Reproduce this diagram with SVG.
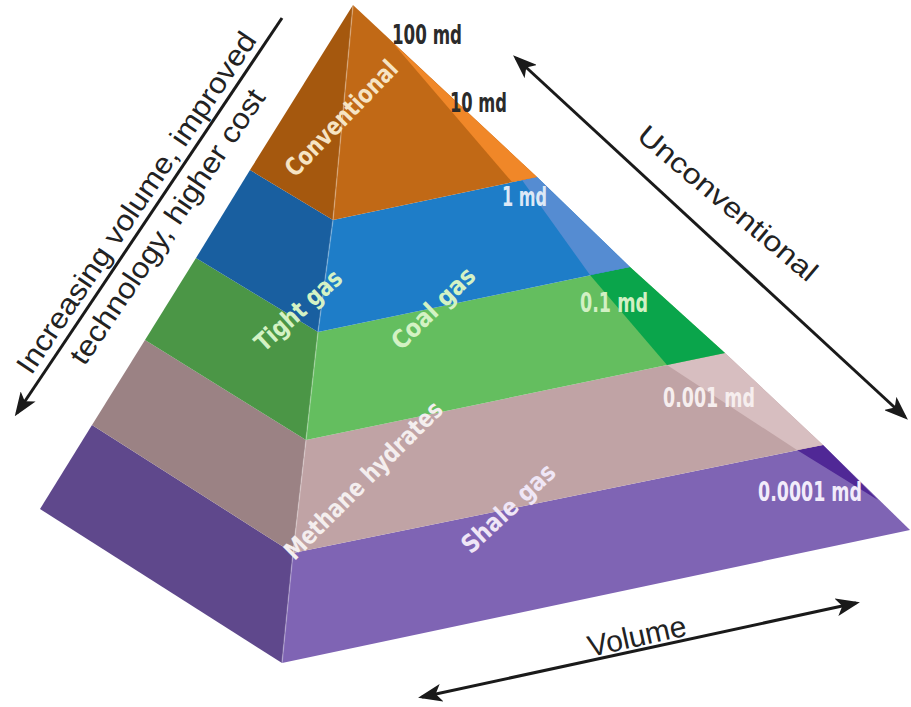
<svg xmlns="http://www.w3.org/2000/svg" width="911" height="707" viewBox="0 0 911 707">
<defs>
<marker id="ah" viewBox="0 0 24 18" markerWidth="24" markerHeight="18" refX="20" refY="9" markerUnits="userSpaceOnUse" orient="auto-start-reverse"><path d="M0,0 L24,9 L0,18 L6,9 z" fill="#1a1a1a"/></marker>
</defs>
<style>
.lbl{font-family:"Liberation Sans Narrow","DejaVu Sans Condensed","Roboto Condensed",Roboto,sans-serif;font-stretch:condensed;font-weight:bold;font-size:25px;text-anchor:middle}
.perm{font-family:"Liberation Sans Narrow","DejaVu Sans Condensed","Roboto Condensed",Roboto,sans-serif;font-stretch:condensed;font-weight:bold;font-size:26px}
.ax{font-family:"Liberation Sans",Arial,sans-serif;fill:#222;text-anchor:middle}
.arrow{stroke:#1a1a1a;stroke-width:3;fill:none}
.ridge{stroke:#ffffff;stroke-opacity:0.25;stroke-width:1.5;fill:none}
</style>
<rect width="911" height="707" fill="#ffffff"/>

<g id="layer-shale">
<polygon points="92,425 293,553 282,663 40,509" fill="#5f488c"/>
<polygon points="293,553 823,445 910,530 282,663" fill="#7f64b4"/>
<polygon points="797,450 823,445 878,500" fill="#502896"/>
</g>

<g id="layer-methane">
<polygon points="145,340 306,440 293,553 92,425" fill="#9b8284"/>
<polygon points="306,440 725,353 823,445 293,553" fill="#c0a3a5"/>
<polygon points="667,365 725,353 823,445 797,450" fill="#d7bec0"/>
</g>

<g id="layer-coal-gas">
<polygon points="196,258 318,332 306,440 145,340" fill="#4b9646"/>
<polygon points="318,332 630,267 725,353 306,440" fill="#64be5f"/>
<polygon points="590,275 630,267 725,353 667,365" fill="#0aa54b"/>
</g>

<g id="layer-tight-gas">
<polygon points="250,170 333,220 318,332 196,258" fill="#195fa0"/>
<polygon points="333,220 537,177 630,267 318,332" fill="#1e7dc8"/>
<polygon points="522,180 537,177 630,267 590,275" fill="#558cd2"/>
</g>

<g id="layer-conventional">
<polygon points="353,5 333,220 250,170" fill="#a5580e"/>
<polygon points="353,5 537,177 333,220" fill="#c16916"/>
<polygon points="392,42 537,177 512,182" fill="#f08728"/>
</g>

<polyline class="ridge" points="353,5 333,220 318,332 306,440 293,553 282,663"/>

<g id="layer-labels">
<text id="lbl-conventional" class="lbl" fill="#f6e4c4" transform="translate(341,118) rotate(-46)" y="9" textLength="150" lengthAdjust="spacingAndGlyphs">Conventional</text>
<text id="lbl-tight" class="lbl" fill="#d4f2c4" transform="translate(298,310) rotate(-42)" y="9" textLength="108" lengthAdjust="spacingAndGlyphs">Tight gas</text>
<text id="lbl-coal" class="lbl" fill="#d4f2c4" transform="translate(433,308) rotate(-44)" y="9" textLength="106" lengthAdjust="spacingAndGlyphs">Coal gas</text>
<text id="lbl-methane" class="lbl" fill="#f4eeee" transform="translate(363,480) rotate(-45)" y="9" textLength="212" lengthAdjust="spacingAndGlyphs">Methane hydrates</text>
<text id="lbl-shale" class="lbl" fill="#efe6f6" transform="translate(508,508) rotate(-43)" y="9" textLength="118" lengthAdjust="spacingAndGlyphs">Shale gas</text>
<text class="perm" fill="#2b2b2b" x="392" y="44" textLength="70" lengthAdjust="spacingAndGlyphs">100 md</text>
<text class="perm" fill="#2b2b2b" x="450" y="112" textLength="57" lengthAdjust="spacingAndGlyphs">10 md</text>
<text class="perm" fill="#dce8f6" x="502" y="206" textLength="45" lengthAdjust="spacingAndGlyphs">1 md</text>
<text class="perm" fill="#d2f0c4" x="580" y="312" textLength="68" lengthAdjust="spacingAndGlyphs">0.1 md</text>
<text class="perm" fill="#f6eeee" x="663" y="407" textLength="92" lengthAdjust="spacingAndGlyphs">0.001 md</text>
<text class="perm" fill="#f2ecfa" x="758" y="501" textLength="104" lengthAdjust="spacingAndGlyphs">0.0001 md</text>
</g>

<g id="connectors">
<line class="arrow" x1="282" y1="18" x2="17" y2="413" marker-end="url(#ah)"/>
<line class="arrow" x1="516" y1="58" x2="905" y2="417" marker-start="url(#ah)" marker-end="url(#ah)"/>
<line class="arrow" x1="422" y1="697" x2="856" y2="603" stroke-width="2.5" marker-start="url(#ah)" marker-end="url(#ah)"/>
</g>

<g id="axis-labels">
<text class="ax" font-size="29" transform="translate(137,203) rotate(-56)" y="9" textLength="405" lengthAdjust="spacingAndGlyphs">Increasing volume, improved</text>
<text class="ax" font-size="29" transform="translate(168,227) rotate(-56)" y="9" textLength="325" lengthAdjust="spacingAndGlyphs">technology, higher cost</text>
<text class="ax" font-size="28" transform="translate(728,203) rotate(40)" y="10" textLength="225" lengthAdjust="spacingAndGlyphs">Unconventional</text>
<text class="ax" font-size="30" transform="translate(640,650) rotate(-12.5)" y="-4" textLength="100" lengthAdjust="spacingAndGlyphs">Volume</text>
</g>
</svg>
